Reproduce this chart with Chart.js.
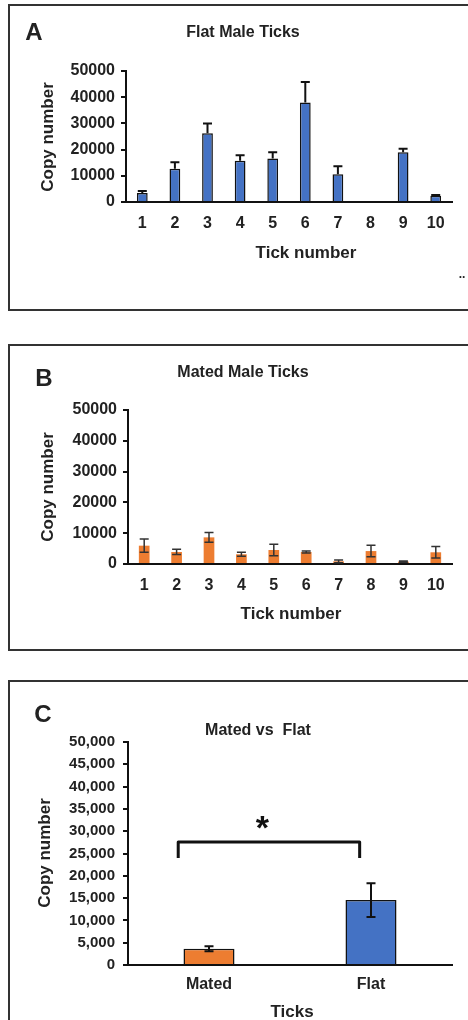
<!DOCTYPE html>
<html>
<head>
<meta charset="utf-8">
<script src="https://cdn.jsdelivr.net/npm/chart.js@4"></script>
<style>
  html, body { margin: 0; padding: 0; background: #fff; }
  body { width: 468px; height: 1020px; position: relative; overflow: hidden; }
  .panel { position: absolute; left: 8px; width: 480px; border: 2px solid #333; box-sizing: border-box; }
  canvas { position: absolute; left: 0; }
</style>
</head>
<body>
<div class="panel" style="top:4px;height:307px"></div>
<div class="panel" style="top:344px;height:307px"></div>
<div class="panel" style="top:680px;height:400px"></div>
<canvas id="chartA" width="468" height="300" style="top:0px"></canvas>
<canvas id="chartB" width="468" height="300" style="top:340px"></canvas>
<canvas id="chartC" width="468" height="340" style="top:680px"></canvas>
<script>
// data
const tickNumbers = ['1', '2', '3', '4', '5', '6', '7', '8', '9', '10'];
const flatCopies = [3400, 12700, 26200, 15700, 16600, 38000, 10600, 0, 19000, 2400];
const flatErrors = [800, 2500, 3800, 2100, 2400, 7800, 3000, 0, 1300, 300];
const matedCopies = [5950, 3900, 8650, 3150, 4550, 3900, 870, 4200, 760, 3800];
const matedErrors = [2150, 850, 1600, 650, 1850, 300, 450, 1850, 220, 1850];
const groupLabels = ['Mated', 'Flat'];
const groupMeans = [3650, 14550];
const groupErrors = [550, 3800];
const yMax = 50000;
const bracketTop = 27600;
const bracketEnd = 24000;

const BLUE = '#4472C4';
const ORANGE = '#ED7D31';
const FONT = 'Arial, "Liberation Sans", sans-serif';

// error bars, drawn from the bar elements and the y scale
const errorBars = {
    id: 'errorBars',
    afterDatasetsDraw(chart) {
        const ctx = chart.ctx;
        const y = chart.scales.y;
        chart.data.datasets.forEach((ds, di) => {
            if (!ds.errors) return;
            const meta = chart.getDatasetMeta(di);
            ctx.save();
            ctx.strokeStyle = ds.errorColor || '#111';
            ctx.lineWidth = ds.errorWidth || 2;
            meta.data.forEach((bar, i) => {
                const err = ds.errors[i];
                if (!err) return;
                const v = ds.data[i];
                const top = y.getPixelForValue(v + err);
                const bottom = ds.errorBoth ? y.getPixelForValue(v - err) : y.getPixelForValue(v);
                ctx.beginPath();
                ctx.moveTo(bar.x, top);
                ctx.lineTo(bar.x, bottom);
                ctx.moveTo(bar.x - 4.5, top);
                ctx.lineTo(bar.x + 4.5, top);
                if (ds.errorBoth) {
                    ctx.moveTo(bar.x - 4.5, bottom);
                    ctx.lineTo(bar.x + 4.5, bottom);
                }
                ctx.stroke();
            });
            ctx.restore();
        });
    }
};

// panel letter, titles and axis titles
function panelText(items) {
    return {
        id: 'panelText',
        afterDraw(chart) {
            const ctx = chart.ctx;
            items.forEach(t => {
                ctx.save();
                ctx.font = t.font;
                ctx.fillStyle = '#222';
                ctx.textAlign = 'center';
                ctx.textBaseline = 'middle';
                ctx.translate(t.x, t.y);
                if (t.rotate) ctx.rotate(-Math.PI / 2);
                ctx.fillText(t.text, 0, 0);
                ctx.restore();
            });
        }
    };
}

function makeOptions(yWidth, xHeight, topPad, step, yFont, fmt, xPad) {
    return {
        responsive: false,
        animation: false,
        layout: { padding: { top: topPad, right: 16, bottom: 0, left: 0 } },
        plugins: { legend: { display: false }, tooltip: { enabled: false } },
        scales: {
            x: {
                afterFit(scale) { scale.height = xHeight; },
                grid: { display: false, drawTicks: false },
                border: { display: true, color: '#111', width: 2 },
                ticks: { color: '#222', padding: xPad, font: { family: FONT, size: 16, weight: 'bold' } }
            },
            y: {
                min: 0,
                max: yMax,
                afterFit(scale) { scale.width = yWidth; },
                grid: { display: true, drawOnChartArea: false, drawTicks: true, tickLength: 5, color: '#111', lineWidth: 2 },
                border: { display: true, color: '#111', width: 2 },
                ticks: { stepSize: step, color: '#222', padding: 6, font: { family: FONT, size: yFont, weight: 'bold' }, callback: fmt }
            }
        }
    };
}

const plainNum = v => String(v);
const commaNum = v => v.toLocaleString('en-US');

new Chart(document.getElementById('chartA'), {
    type: 'bar',
    data: {
        labels: tickNumbers,
        datasets: [{
            data: flatCopies,
            errors: flatErrors,
            backgroundColor: BLUE,
            borderColor: '#111',
            borderWidth: 1.5,
            barPercentage: 0.33,
            categoryPercentage: 1
        }]
    },
    options: makeOptions(126, 98, 71, 10000, 16, plainNum, 12),
    plugins: [errorBars, panelText([
        { text: 'A', x: 34, y: 33, font: 'bold 24px ' + FONT },
        { text: 'Flat Male Ticks', x: 243, y: 33, font: 'bold 16px ' + FONT },
        { text: 'Tick number', x: 306, y: 253, font: 'bold 17px ' + FONT },
        { text: 'Copy number', x: 48, y: 137, font: 'bold 17px ' + FONT, rotate: true },
        { text: '..', x: 462, y: 275, font: 'bold 12px ' + FONT }
    ])]
});

new Chart(document.getElementById('chartB'), {
    type: 'bar',
    data: {
        labels: tickNumbers,
        datasets: [{
            data: matedCopies,
            errors: matedErrors,
            errorBoth: true,
            errorColor: '#333',
            errorWidth: 1.5,
            backgroundColor: ORANGE,
            borderWidth: 0,
            barPercentage: 0.33,
            categoryPercentage: 1
        }]
    },
    options: makeOptions(128, 76, 70, 10000, 16, plainNum, 12),
    plugins: [errorBars, panelText([
        { text: 'B', x: 44, y: 39, font: 'bold 24px ' + FONT },
        { text: 'Mated Male Ticks', x: 243, y: 33, font: 'bold 16px ' + FONT },
        { text: 'Tick number', x: 291, y: 274, font: 'bold 17px ' + FONT },
        { text: 'Copy number', x: 48, y: 147, font: 'bold 17px ' + FONT, rotate: true }
    ])]
});

// significance bracket over the two groups
const bracket = {
    id: 'bracket',
    afterDatasetsDraw(chart) {
        const { ctx, scales: { x, y } } = chart;
        const x0 = x.getPixelForValue(-0.19);
        const x1 = x.getPixelForValue(0.93);
        const yt = y.getPixelForValue(bracketTop);
        const yb = y.getPixelForValue(bracketEnd);
        ctx.save();
        ctx.strokeStyle = '#111';
        ctx.lineWidth = 3;
        ctx.lineJoin = 'round';
        ctx.beginPath();
        ctx.moveTo(x0, yb);
        ctx.lineTo(x0, yt);
        ctx.lineTo(x1, yt);
        ctx.lineTo(x1, yb);
        ctx.stroke();
        ctx.fillStyle = '#111';
        ctx.font = 'bold 34px ' + FONT;
        ctx.textAlign = 'center';
        ctx.textBaseline = 'middle';
        ctx.fillText('*', x.getPixelForValue(0.33), y.getPixelForValue(bracketTop) - 12);
        ctx.restore();
    }
};

new Chart(document.getElementById('chartC'), {
    type: 'bar',
    data: {
        labels: groupLabels,
        datasets: [{
            data: groupMeans,
            errors: groupErrors,
            errorBoth: true,
            backgroundColor: [ORANGE, BLUE],
            borderColor: '#111',
            borderWidth: 1.5,
            barPercentage: 0.315,
            categoryPercentage: 1
        }]
    },
    options: (() => {
        const o = makeOptions(128, 55, 62, 5000, 15, commaNum, 10);
        o.scales.y.ticks.padding = 8;
        return o;
    })(),
    plugins: [errorBars, bracket, panelText([
        { text: 'C', x: 43, y: 35, font: 'bold 24px ' + FONT },
        { text: 'Mated vs  Flat', x: 258, y: 51, font: 'bold 16px ' + FONT },
        { text: 'Ticks', x: 292, y: 332, font: 'bold 17px ' + FONT },
        { text: 'Copy number', x: 45, y: 173, font: 'bold 17px ' + FONT, rotate: true }
    ])]
});
</script>
</body>
</html>
